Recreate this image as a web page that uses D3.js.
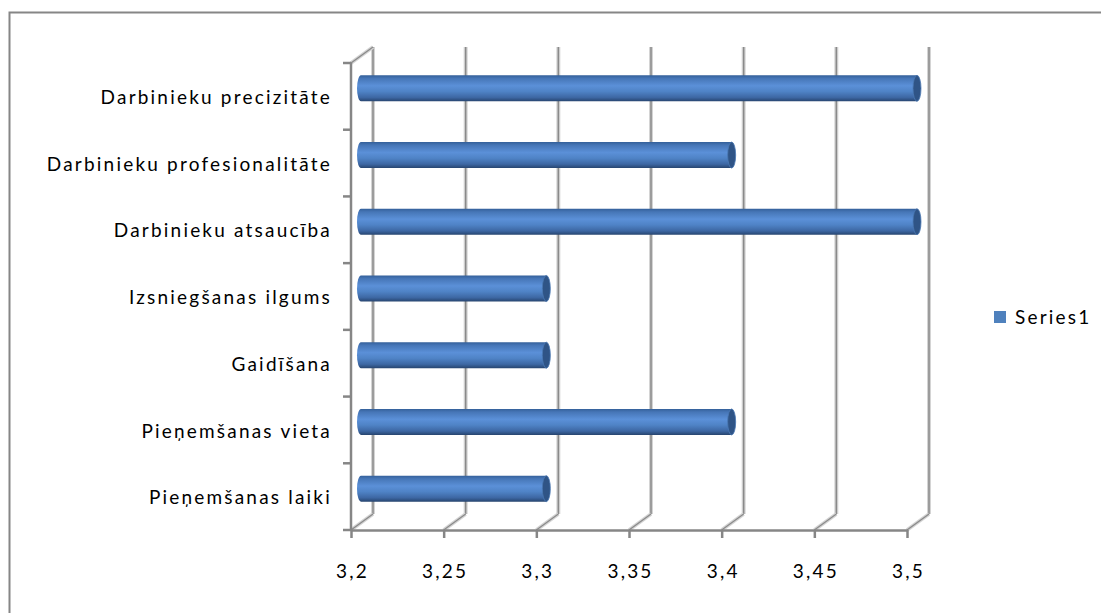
<!DOCTYPE html>
<html>
<head>
<meta charset="utf-8">
<script src="https://cdn.jsdelivr.net/npm/d3@7"></script>
<style>
  body { margin: 0; background: #fff; }
  svg text { font-family: Lato, "Open Sans", sans-serif; fill: #000; font-size: 19px; letter-spacing: 2.2px; }
</style>
</head>
<body>
<svg id="chart" width="1101" height="613"></svg>
<script>
// values
const categories = [
    "Pieņemšanas laiki", "Pieņemšanas vieta", "Gaidīšana", "Izsniegšanas ilgums",
    "Darbinieku atsaucība", "Darbinieku profesionalitāte", "Darbinieku precizitāte"
];
const series1 = [3.3, 3.4, 3.3, 3.3, 3.5, 3.4, 3.5];
const xTicks = [3.2, 3.25, 3.3, 3.35, 3.4, 3.45, 3.5];
const seriesName = "Series1";

const plot = {left: 351, right: 907, top: 63, bottom: 530};
const depth = {dx: 22, dy: -16};

const svg = d3.select("#chart");

// outer frame (only top/left visible)
svg.append("path")
    .attr("d", "M9.5,613 L9.5,12.5 L1101,12.5")
    .attr("fill", "none")
    .attr("stroke", "#868686")
    .attr("stroke-width", 2);

const x = d3.scaleLinear().domain([3.2, 3.5]).range([plot.left, plot.right]);
const y = d3.scaleBand().domain(categories).range([plot.bottom, plot.top]);

const grid = svg.append("g");
function softLine(x1, y1, x2, y2, w) {
    grid.append("line")
        .attr("x1", x1).attr("x2", x2).attr("y1", y1).attr("y2", y2)
        .attr("stroke", "#d4d4d4").attr("stroke-width", w + 2.5);
    grid.append("line")
        .attr("x1", x1).attr("x2", x2).attr("y1", y1).attr("y2", y2)
        .attr("stroke", "#8a8a8a").attr("stroke-width", w);
}
// back gridlines and floor diagonals
xTicks.forEach(t => {
    const bx = x(t) + depth.dx;
    softLine(bx, plot.top + depth.dy, bx, plot.bottom + depth.dy, 1.5);
    softLine(x(t), plot.bottom, bx, plot.bottom + depth.dy, 1.2);
});
// top-left wall diagonal
softLine(plot.left, plot.top, plot.left + depth.dx, plot.top + depth.dy, 1.2);

// bottom axis
const fmt = d => String(d).replace(".", ",");
const xAxis = svg.append("g")
    .attr("transform", "translate(0," + plot.bottom + ")")
    .call(d3.axisBottom(x).tickValues(xTicks).tickFormat(fmt).tickSize(8).tickSizeOuter(0));
xAxis.select(".domain").attr("stroke", "#868686").attr("stroke-width", 2.5);
xAxis.selectAll(".tick line").attr("stroke", "#868686").attr("stroke-width", 2.5);
xAxis.selectAll("text")
    .attr("x", 1)
    .attr("y", 41)
    .attr("dy", "0.35em")
    .attr("font-size", null)
    .attr("font-family", null);

// left axis: line plus ticks at category boundaries
const yAxis = svg.append("g");
yAxis.append("line")
    .attr("x1", plot.left).attr("x2", plot.left)
    .attr("y1", plot.top).attr("y2", plot.bottom)
    .attr("stroke", "#868686").attr("stroke-width", 2.5);
const edges = categories.map(c => y(c)).concat([plot.bottom]);
yAxis.selectAll(".ytick")
    .data(edges)
    .enter().append("line")
    .attr("x1", plot.left - 8).attr("x2", plot.left)
    .attr("y1", d => d).attr("y2", d => d)
    .attr("stroke", "#868686").attr("stroke-width", 2.5);
yAxis.selectAll(".ylabel")
    .data(categories)
    .enter().append("text")
    .attr("x", 332)
    .attr("y", d => y(d) + y.bandwidth() / 2 + 1)
    .attr("dy", "0.35em")
    .attr("text-anchor", "end")
    .text(d => d);

// cylinder gradient
const defs = svg.append("defs");
const grad = defs.append("linearGradient")
    .attr("id", "cyl").attr("x1", 0).attr("y1", 0).attr("x2", 0).attr("y2", 1);
[[0, "#34609a"], [0.12, "#4676b7"], [0.4, "#5b90d8"], [0.62, "#4f83c6"], [0.85, "#3d67a3"], [1, "#27456f"]]
    .forEach(s => grad.append("stop").attr("offset", s[0]).attr("stop-color", s[1]));

const barH = 26;
const rx = 4;
const bars = svg.append("g");
categories.forEach((c, i) => {
    const cy = y(c) + y.bandwidth() / 2 + depth.dy / 2;
    const x0 = x(3.2) + depth.dx / 2 - 1;
    const x1 = x(series1[i]) + depth.dx / 2 - 1;
    const top = cy - barH / 2, bot = cy + barH / 2;
    bars.append("path")
        .attr("d", "M" + x0 + "," + top + " L" + x1 + "," + top +
            " L" + x1 + "," + bot + " L" + x0 + "," + bot +
            " A" + rx + "," + (barH / 2) + " 0 0 1 " + x0 + "," + top + "Z")
        .attr("fill", "url(#cyl)");
    bars.append("ellipse")
        .attr("cx", x1).attr("cy", cy)
        .attr("rx", rx).attr("ry", barH / 2)
        .attr("fill", "#2f5486")
        .attr("stroke", "#4a78b4").attr("stroke-width", 0.8);
});

// legend
const legend = svg.append("g").attr("transform", "translate(994,311)");
legend.append("rect").attr("width", 12).attr("height", 12).attr("fill", "#4f81bd");
legend.append("text").attr("x", 21).attr("y", 6).attr("dy", "0.35em").text(seriesName);
</script>
</body>
</html>
